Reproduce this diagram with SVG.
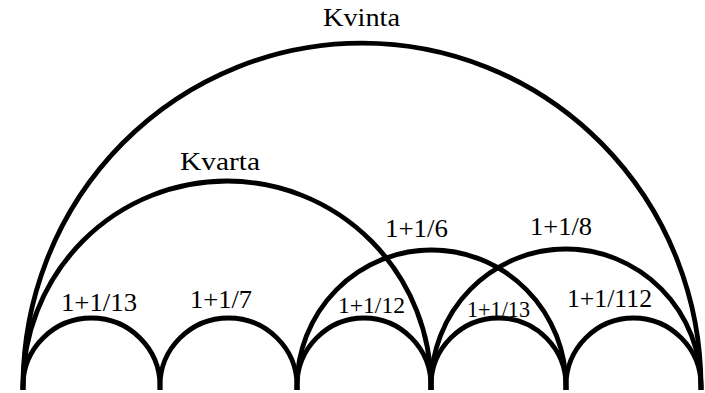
<svg xmlns="http://www.w3.org/2000/svg" width="705" height="393" viewBox="0 0 705 393">
<style>
.arc{fill:none;stroke:#000;stroke-width:4.8;stroke-linejoin:miter}
text{font-family:"Liberation Serif","DejaVu Serif","Noto Serif",Tinos,Times,serif;font-size:25px;fill:#000}
text.sm{font-size:23px}
</style>
<rect width="705" height="393" fill="#fff"/>
<g id="arcs">
<path id="kvinta" class="arc" d="M23 390 L23 386 A339 343 0 0 1 701 386 L701 390"/>
<path id="kvarta" class="arc" d="M23 390 L23 386 A204 205 0 0 1 431 386 L431 390"/>
<path id="a6" class="arc" d="M297 390 L297 386 A134.5 136 0 0 1 566 386 L566 390"/>
<path id="a8" class="arc" d="M431 390 L431 386 A135 137 0 0 1 701 386 L701 390"/>
<path id="a13l" class="arc" d="M23 390 L23 386 A68.5 68 0 0 1 160 386 L160 390"/>
<path id="a7" class="arc" d="M160 390 L160 386 A68.5 68 0 0 1 297 386 L297 390"/>
<path id="a12" class="arc" d="M297 390 L297 386 A67 68 0 0 1 431 386 L431 390"/>
<path id="a13r" class="arc" d="M431 390 L431 386 A67.5 68 0 0 1 566 386 L566 390"/>
<path id="a112" class="arc" d="M566 390 L566 386 A67.5 68 0 0 1 701 386 L701 390"/>
</g>
<g id="labels">
<text x="323" y="26" textLength="77" lengthAdjust="spacingAndGlyphs">Kvinta</text>
<text x="180" y="170" textLength="80" lengthAdjust="spacingAndGlyphs">Kvarta</text>
<text x="385" y="237" textLength="63" lengthAdjust="spacingAndGlyphs">1+1/6</text>
<text x="530" y="235" textLength="62" lengthAdjust="spacingAndGlyphs">1+1/8</text>
<text x="61" y="311" textLength="76" lengthAdjust="spacingAndGlyphs">1+1/13</text>
<text x="190" y="308" textLength="62" lengthAdjust="spacingAndGlyphs">1+1/7</text>
<text class="sm" x="338" y="313" textLength="67" lengthAdjust="spacingAndGlyphs">1+1/12</text>
<text class="sm" x="467" y="317" textLength="63" lengthAdjust="spacingAndGlyphs">1+1/13</text>
<text x="567" y="307" textLength="85" lengthAdjust="spacingAndGlyphs">1+1/112</text>
</g>
</svg>
